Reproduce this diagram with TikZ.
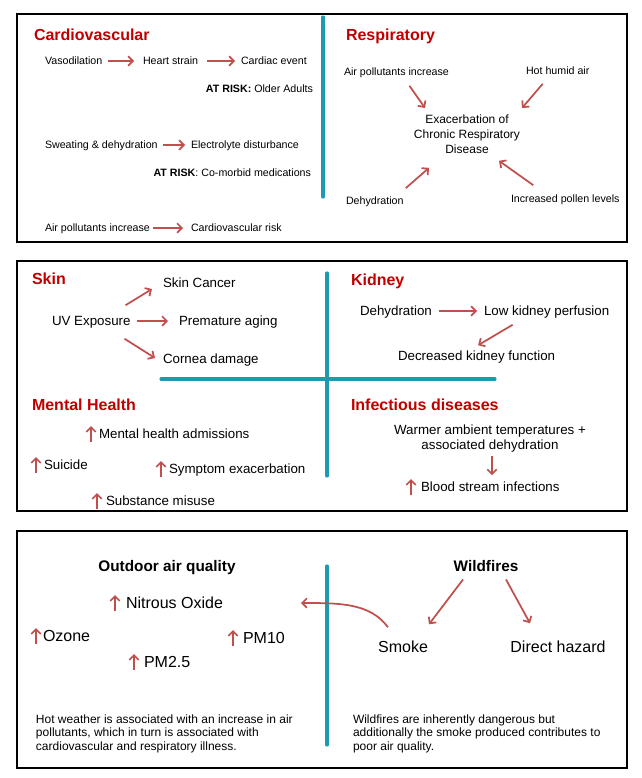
\documentclass[tikz,border=0pt]{standalone}
\usepackage{fontspec}
\setmainfont{Liberation Sans}
\usetikzlibrary{arrows.meta}
\definecolor{hred}{HTML}{C00000}
\definecolor{ared}{HTML}{C0504D}
\definecolor{teal1}{HTML}{1B9AB1}
\tikzset{
  T/.style={inner sep=0pt, outer sep=0pt, text depth=0pt},
  s8/.style={T, font=\fontsize{8}{9.6}\selectfont, text height=5.73pt},
  s10/.style={T, font=\fontsize{10}{12}\selectfont, text height=7.16pt},
  s12/.style={T, font=\fontsize{12}{14}\selectfont, text height=8.6pt},
  hd/.style={T, font=\fontsize{12}{14}\selectfont\bfseries, text height=8.6pt, text=hred},
  bh/.style={T, font=\fontsize{11.5}{14}\selectfont\bfseries, text height=8.23pt},
  multi/.style={inner sep=0pt, outer sep=0pt},
  arr/.style={draw=ared, line width=1.3pt, -{Straight Barb[length=3.5pt,width=7pt]}},
  uparr/.style={draw=ared, line width=1.3pt, -{Straight Barb[length=3.5pt,width=7pt]}},
  panel/.style={draw=black, line width=0.9pt},
  divider/.style={draw=teal1, line width=2.3pt, line cap=round},
}
\begin{document}
\begin{tikzpicture}[x=0.75pt, y=-0.75pt]
\useasboundingbox (0,0) rectangle (642,778);
\fill[white] (0,0) rectangle (642,778);
% panels
\draw[panel] (17,14) rectangle (627,242);
\draw[panel] (17,261) rectangle (627,511);
\draw[panel] (17,531) rectangle (627,768);
% dividers
\draw[divider] (323,17) -- (323,197);
\draw[divider] (327,273) -- (327,476);
\draw[divider] (161,379) -- (495,379);
\draw[divider] (327,566) -- (327,745);

% ===== Cardiovascular =====
\node[hd, anchor=west] (cvh) at (34,35) {Cardiovascular};
\node[s8, anchor=west] (vaso) at (45,61) {Vasodilation};
\node[s8, anchor=west] (heart) at (143,61) {Heart strain};
\node[s8, anchor=west] (cardev) at (241,61) {Cardiac event};
\draw[arr] ([shift={(6,0)}]vaso.east) -- ([shift={(-9,0)}]heart.west);
\draw[arr] ([shift={(9,0)}]heart.east) -- ([shift={(-6,0)}]cardev.west);
\node[s8, anchor=east] (risk1) at (313,89) {\textbf{AT RISK:} Older Adults};
\node[s8, anchor=west] (sweat) at (45,145) {Sweating \& dehydration};
\node[s8, anchor=west] (elec) at (191,145) {Electrolyte disturbance};
\draw[arr] ([shift={(5,0)}]sweat.east) -- ([shift={(-6,0)}]elec.west);
\node[s8, anchor=east] (risk2) at (311,173) {\textbf{AT RISK}: Co-morbid medications};
\node[s8, anchor=west] (airc) at (45,228) {Air pollutants increase};
\node[s8, anchor=west] (cvr) at (191,228) {Cardiovascular risk};
\draw[arr] ([shift={(3,0)}]airc.east) -- ([shift={(-8,0)}]cvr.west);

% ===== Respiratory =====
\node[hd, anchor=west] (resh) at (346,35) {Respiratory};
\node[s8, anchor=west] (airp) at (344,72) {Air pollutants increase};
\node[s8, anchor=west] (hot) at (526,71) {Hot humid air};
\node[multi, font=\fontsize{9}{11.25}\selectfont, align=center, anchor=north] (exac) at (467,115) {Exacerbation of\\Chronic Respiratory\\Disease};
\node[s8, anchor=west] (dehyd) at (346,201) {Dehydration};
\node[s8, anchor=west] (pollen) at (511,199) {Increased pollen levels};
\draw[arr] ([shift={(13,10)}]airp.south) -- ([shift={(-42,-7)}]exac.north);
\draw[arr] ([shift={(-15,9)}]hot.south) -- ([shift={(55,-7)}]exac.north);
\draw[arr] ([shift={(31,-9)}]dehyd.north) -- ([shift={(-38,14)}]exac.south);
\draw[arr] ([shift={(-32,-10)}]pollen.north) -- ([shift={(32,7)}]exac.south);

% ===== Skin =====
\node[hd, anchor=west] (skinh) at (32,279) {Skin};
\node[s10, anchor=west] (uv) at (52,321) {UV Exposure};
\node[s10, anchor=west] (cancer) at (163,283) {Skin Cancer};
\node[s10, anchor=west] (aging) at (179,321) {Premature aging};
\node[s10, anchor=west] (cornea) at (163,359) {Cornea damage};
\draw[arr] ([shift={(-5,-11)}]uv.north east) -- ([shift={(-11,6)}]cancer.west);
\draw[arr] ([shift={(6,0)}]uv.east) -- ([shift={(-11,0)}]aging.west);
\draw[arr] ([shift={(-6,13)}]uv.south east) -- ([shift={(-8,-1)}]cornea.west);

% ===== Mental Health =====
\node[hd, anchor=west] (mhh) at (32,405) {Mental Health};
\node[s10, anchor=west] (mha) at (99,434) {Mental health admissions};
\node[s10, anchor=west] (sui) at (44,465) {Suicide};
\node[s10, anchor=west] (sym) at (169,469) {Symptom exacerbation};
\node[s10, anchor=west] (sub) at (106,501) {Substance misuse};
\draw[uparr] ([shift={(-8,8)}]mha.west) -- ([shift={(-8,-8)}]mha.west);
\draw[uparr] ([shift={(-8,8)}]sui.west) -- ([shift={(-8,-8)}]sui.west);
\draw[uparr] ([shift={(-8,8)}]sym.west) -- ([shift={(-8,-8)}]sym.west);
\draw[uparr] ([shift={(-9,8)}]sub.west) -- ([shift={(-9,-8)}]sub.west);

% ===== Kidney =====
\node[hd, anchor=west] (kidh) at (351,280) {Kidney};
\node[s10, anchor=west] (kdehyd) at (360,311) {Dehydration};
\node[s10, anchor=west] (lowk) at (484,311) {Low kidney perfusion};
\node[s10, anchor=west] (deck) at (398,356) {Decreased kidney function};
\draw[arr] ([shift={(7,0)}]kdehyd.east) -- ([shift={(-7,0)}]lowk.west);
\draw[arr] ([shift={(-34,9)}]lowk.south) -- ([shift={(1.5,-6)}]deck.north);

% ===== Infectious diseases =====
\node[hd, anchor=west] (infh) at (351,405) {Infectious diseases};
\node[multi, font=\fontsize{10}{11.25}\selectfont, align=center, anchor=north] (warm) at (490,425) {Warmer ambient temperatures +\\associated dehydration};
\node[s10, anchor=west] (blood) at (421,487) {Blood stream infections};
\draw[arr] ([shift={(2,4)}]warm.south) -- ([shift={(71,-7)}]blood.north west);
\draw[uparr] ([shift={(-10,8)}]blood.west) -- ([shift={(-10,-8)}]blood.west);

% ===== Outdoor air quality =====
\node[bh] (oaq) at (167,566) {Outdoor air quality};
\node[s12, anchor=west] (nox) at (126,603) {Nitrous Oxide};
\node[s12, anchor=west] (ozone) at (43,636) {Ozone};
\node[s12, anchor=west] (pm10) at (243,638) {PM10};
\node[s12, anchor=west] (pm25) at (144,662) {PM2.5};
\draw[uparr] ([shift={(-11,8)}]nox.west) -- ([shift={(-11,-8)}]nox.west);
\draw[uparr] ([shift={(-7,8)}]ozone.west) -- ([shift={(-7,-8)}]ozone.west);
\draw[uparr] ([shift={(-10,8)}]pm10.west) -- ([shift={(-10,-8)}]pm10.west);
\draw[uparr] ([shift={(-10,8)}]pm25.west) -- ([shift={(-10,-8)}]pm25.west);
\node[multi, font=\fontsize{9}{10.1}\selectfont, align=left, anchor=north west] (p1) at (36,714.5) {Hot weather is associated with an increase in air\\pollutants, which in turn is associated with\\cardiovascular and respiratory illness.};

% ===== Wildfires =====
\node[bh] (wild) at (486,566) {Wildfires};
\node[s12] (smoke) at (403,647) {Smoke};
\node[s12] (direct) at (558,647) {Direct hazard};
\draw[arr] ([shift={(-23,8)}]wild.south) -- ([shift={(26,-17)}]smoke.north);
\draw[arr] ([shift={(20,8)}]wild.south) -- ([shift={(-28,-18)}]direct.north);
\coordinate (smoketarget) at (301,603);
\draw[arr] ([shift={(-15,-14)}]smoke.north) .. controls (370,603) and (340,603) .. (smoketarget);
\node[multi, font=\fontsize{9}{10.1}\selectfont, align=left, anchor=north west] (p2) at (353,714.5) {Wildfires are inherently dangerous but\\additionally the smoke produced contributes to\\poor air quality.};
\end{tikzpicture}
\end{document}
